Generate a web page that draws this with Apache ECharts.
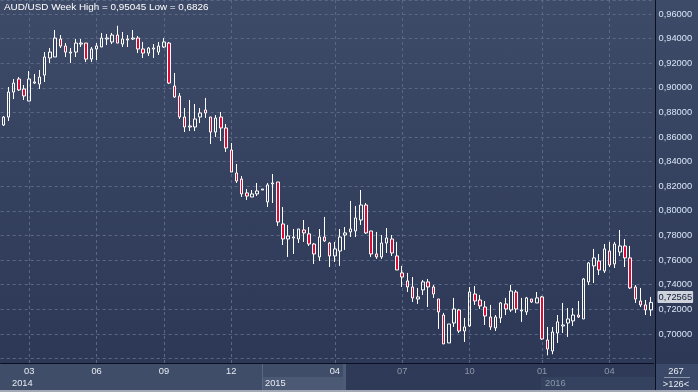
<!DOCTYPE html>
<html><head><meta charset="utf-8">
<script src="https://cdn.jsdelivr.net/npm/echarts@6/dist/echarts.min.js"></script>
<style>
html,body{margin:0;padding:0;background:#2e3a58;}
#c{width:698px;height:392px;background:linear-gradient(to bottom,#3e4b68 0%,#2c3856 93%);}
</style>
</head><body><div id="c"></div>
<script>
// weekly AUD/USD candles
const open = [.8698,.8763,.8966,.9072,.8991,.8893,.9048,.9031,.9104,.9243,.9251,.9397,.9340,.9283,.9291,.9356,.9364,.9234,.9316,.9332,
.9397,.9373,.9429,.9356,.9389,.9397,.9405,.9316,.9283,.9316,.9291,.9332,.9364,.9015,.8934,.8763,.8682,.8682,.8763,.8820,
.8763,.8641,.8763,.8674,.8495,.8308,.8259,.8146,.8113,.8138,.8170,.8073,.8219,.8235,.7894,.7772,.7780,.7772,.7845,.7813,
.7731,.7626,.7788,.7739,.7634,.7674,.7804,.7829,.7837,.7926,.8048,.7837,.7650,.7626,.7739,.7772,.7634,.7496,.7431,.7382,
.7284,.7358,.7423,.7382,.7284,.7154,.6927,.7089,.7195,.7024,.7065,.7325,.7276,.7219,.7138,.7049,.7130,.7244,.7195,.7341,
.7187,.7179,.7284,.7252,.7301,.6951,.6862,.7008,.7065,.7089,.7106,.7154,.7122,.7423,.7553,.7593,.7512,.7674,.7569,.7666,
.7715,.7618,.7382,.7268,.7236,.7195];
const close = [.8763,.8966,.9039,.8983,.8934,.9072,.9039,.9088,.9251,.9291,.9405,.9340,.9291,.9291,.9364,.9364,.9234,.9316,.9340,.9405,
.9405,.9429,.9364,.9397,.9397,.9405,.9316,.9283,.9324,.9324,.9340,.9373,.9039,.8926,.8763,.8682,.8690,.8747,.8796,.8796,
.8641,.8755,.8674,.8511,.8316,.8243,.8138,.8121,.8138,.8162,.8178,.8211,.8227,.7910,.7772,.7796,.7788,.7853,.7821,.7731,
.7650,.7788,.7756,.7634,.7691,.7788,.7821,.7853,.7943,.8048,.7821,.7650,.7626,.7739,.7780,.7658,.7520,.7463,.7382,.7293,
.7301,.7423,.7382,.7325,.7179,.6919,.7081,.7203,.7024,.7057,.7341,.7268,.7228,.7146,.7057,.7138,.7252,.7203,.7349,.7203,
.7195,.7293,.7260,.7293,.6959,.6878,.7016,.7098,.7073,.7122,.7154,.7138,.7447,.7577,.7618,.7520,.7691,.7561,.7731,.7715,
.7618,.7374,.7284,.7236,.7195,.72565];
const low = [.8690,.8731,.8909,.8975,.8901,.8893,.9031,.8991,.9048,.9202,.9251,.9324,.9251,.9202,.9251,.9332,.9210,.9210,.9226,.9332,
.9348,.9356,.9364,.9332,.9332,.9389,.9283,.9243,.9259,.9243,.9267,.9324,.9031,.8918,.8747,.8641,.8649,.8649,.8714,.8755,
.8544,.8601,.8568,.8479,.8316,.8227,.8113,.8089,.8113,.8121,.8170,.8032,.8064,.7878,.7723,.7626,.7650,.7739,.7748,.7715,
.7569,.7593,.7748,.7544,.7585,.7553,.7683,.7788,.7788,.7886,.7813,.7626,.7610,.7610,.7658,.7634,.7520,.7382,.7341,.7260,
.7244,.7317,.7219,.7293,.7041,.6919,.6927,.7057,.7008,.6935,.7057,.7236,.7203,.7073,.7033,.7024,.7089,.7154,.7179,.7171,
.7098,.7154,.7252,.7252,.6951,.6826,.6835,.6927,.7008,.6976,.7065,.7130,.7122,.7398,.7414,.7479,.7496,.7544,.7536,.7634,
.7544,.7366,.7252,.7219,.7154,.7146];
const high = [.8771,.9007,.9072,.9088,.9023,.9137,.9113,.9145,.9291,.9324,.9470,.9429,.9364,.9324,.9397,.9397,.9364,.9332,.9364,.9446,
.9438,.9446,.95045,.9454,.9429,.9470,.9421,.9373,.9332,.9356,.9373,.9405,.9373,.9121,.8958,.8836,.8901,.8869,.8836,.8918,
.8763,.8779,.8804,.8706,.8552,.8381,.8284,.8178,.8170,.8227,.8178,.8227,.8300,.8235,.8032,.7886,.7853,.7853,.7926,.7869,
.7739,.7853,.7951,.7748,.7748,.7853,.7869,.8081,.8040,.8170,.8064,.7837,.7829,.7804,.7861,.7804,.7748,.7553,.7496,.7463,
.7374,.7439,.7447,.7398,.7284,.7171,.7081,.7293,.7203,.7130,.7382,.7390,.7317,.7268,.7236,.7154,.7260,.7293,.7398,.7358,
.7293,.7301,.7284,.7341,.7309,.7057,.7057,.7154,.7252,.7211,.7211,.7268,.7455,.7585,.7691,.7650,.7731,.7748,.7748,.7845,
.7772,.7715,.7398,.7374,.7276,.7301];

const categories = open.map((_, i) => 'W' + (i + 1));
const tickIndex = [5, 18, 31, 44, 64, 77, 90, 104, 117];
const tickLabels = ['03', '06', '09', '12', '04', '07', '10', '01', '04'];
const yearLabels = ['2014', '2015', '2016'];
const yTickValues = [0.70, 0.72, 0.74, 0.76, 0.78, 0.80, 0.82, 0.84, 0.86, 0.88, 0.90, 0.92, 0.94, 0.96];
const yMin = 0.6764, yMax = 0.9714;
const lastPrice = close[close.length - 1];
const totalBars = 267;

const FONT = '"Liberation Sans", Arial, sans-serif';
const fmt = v => String(v).replace('.', ',');
const titleText = 'AUD/USD Week High = ' + fmt(Math.max(...high)) + ' Low = ' + fmt(Math.min(...low));

const data = open.map((o, i) => [o, close[i], low[i], high[i]]);
const labelByCat = {};
tickIndex.forEach((t, k) => { labelByCat[categories[t]] = k; });
const GRID = '#5a6886';

const chart = echarts.init(document.getElementById('c'), null, {renderer: 'canvas'});
const txt = (text, x, y, fill, align) => ({
  type: 'text', z: 10, silent: true,
  style: {text, x, y, fill, font: '9.3px ' + FONT, textAlign: align || 'left', textVerticalAlign: 'middle'}
});
chart.setOption({
  animation: false,
  backgroundColor: 'transparent',
  title: {text: titleText, left: 4, top: 2, padding: 0,
    textStyle: {color: '#ffffff', fontSize: 9.9, fontWeight: 'normal', fontFamily: FONT}},
  grid: {left: 0.7, right: 44.5, top: 0, bottom: 29},
  xAxis: {
    type: 'category', data: categories, boundaryGap: true,
    axisLine: {show: true, lineStyle: {color: '#0b1020', width: 1}},
    axisTick: {show: false},
    splitLine: {show: false},
    axisLabel: {
      interval: (i, v) => v in labelByCat,
      formatter: v => (v in labelByCat) ? tickLabels[labelByCat[v]] : '',
      color: v => (labelByCat[v] >= 5 ? '#8d96a9' : '#e8ecf2'),
      fontSize: 9.3, fontFamily: FONT, margin: 4
    }
  },
  yAxis: {
    type: 'value', position: 'right', offset: 2, min: yMin, max: yMax, splitNumber: 15,
    axisLine: {show: true, lineStyle: {color: '#0b1020', width: 1}},
    axisTick: {show: false},
    splitLine: {show: true, lineStyle: {color: GRID, type: [3, 3], width: 1}},
    axisLabel: {
      showMinLabel: false, showMaxLabel: false,
      formatter: v => yTickValues.some(t => Math.abs(t - v) < 1e-6) ? v.toFixed(5).replace('.', ',') : '',
      color: '#d8e5f6', fontSize: 9.3, fontFamily: FONT, margin: 3
    }
  },
  series: [{
    type: 'candlestick', data, barWidth: 3, clip: false,
    itemStyle: {color: 'transparent', color0: '#dc0a35', borderColor: '#ffffff', borderColor0: '#ffffff', borderWidth: 1},
    markLine: {
      silent: true, symbol: 'none', z: 1, animation: false,
      lineStyle: {color: GRID, type: [3, 3], width: 1},
      label: {show: false},
      data: tickIndex.map(i => ({xAxis: categories[i]})).concat([{
        yAxis: lastPrice,
        lineStyle: {color: 'rgba(0,0,0,0)', opacity: 1, width: 0},
        label: {show: true, position: 'end', distance: 4, formatter: fmt(lastPrice), opacity: 1,
          backgroundColor: '#cfd3db', color: '#0d1a36', fontSize: 9.3, fontFamily: FONT,
          padding: [2, 1, 1, 1], borderRadius: 1}
      }])
    }
  }],
  graphic: [
    {type: 'rect', z: -1, silent: true, shape: {x: 0, y: 364, width: 655, height: 26}, style: {fill: '#3f4d69'}},
    {type: 'rect', z: -1, silent: true, shape: {x: 345, y: 364, width: 310, height: 26}, style: {fill: '#2e3a57'}},
    {type: 'rect', z: -1, silent: true, shape: {x: 262, y: 377, width: 83, height: 13}, style: {fill: '#4b5975'}},
    {type: 'rect', z: -1, silent: true, shape: {x: 541, y: 377, width: 114, height: 13}, style: {fill: '#35425f'}},
    {type: 'line', z: -1, silent: true, shape: {x1: 262.5, y1: 364, x2: 262.5, y2: 390}, style: {stroke: '#5a6884', lineWidth: 1}},
    {type: 'rect', z: -1, silent: true, shape: {x: 343, y: 364, width: 3, height: 26}, style: {fill: '#4e5b76'}},
    {type: 'rect', z: -1, silent: true, shape: {x: 656, y: 364, width: 42, height: 26}, style: {fill: '#3b4867'}},
    {type: 'line', z: 5, silent: true, shape: {x1: 655.5, y1: 363, x2: 655.5, y2: 390}, style: {stroke: '#0b1020', lineWidth: 1}},
    {type: 'rect', z: 5, silent: true, shape: {x: 0, y: 390, width: 698, height: 2}, style: {fill: '#a3aab6'}},
    {type: 'line', z: 5, silent: true, shape: {x1: 664, y1: 377.5, x2: 690, y2: 377.5}, style: {stroke: '#8c96aa', lineWidth: 1}},
    txt(yearLabels[0], 12, 383, '#e8ecf2'),
    txt(yearLabels[1], 265, 383, '#e8ecf2'),
    txt(yearLabels[2], 545, 383, '#8d96a9'),
    txt(String(totalBars), 676, 371, '#e8ecf2', 'center'),
    txt('>' + data.length + '<', 676, 384, '#e8ecf2', 'center')
  ]
});
</script></body></html>
